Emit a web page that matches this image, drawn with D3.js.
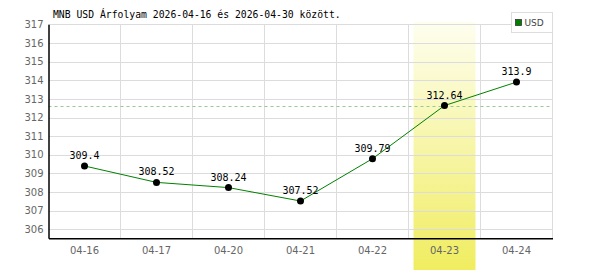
<!DOCTYPE html>
<html>
<head>
<meta charset="utf-8">
<script src="https://cdn.jsdelivr.net/npm/d3@7"></script>
<style>
  body { margin: 0; background: #fff; }
  svg { display: block; }
</style>
</head>
<body>
<svg id="chart" width="600" height="270"></svg>
<script>
// data
const dates = ["04-16", "04-17", "04-20", "04-21", "04-22", "04-23", "04-24"];
const rates = [309.4, 308.52, 308.24, 307.52, 309.79, 312.64, 313.9];
const yTicks = [306, 307, 308, 309, 310, 311, 312, 313, 314, 315, 316, 317];
const highlightDate = "04-23";
const refLevel = 312.64;
const title = "MNB USD Árfolyam 2026-04-16 és 2026-04-30 között.";

const svg = d3.select("#chart");
const margin = {top: 24.3, right: 47.5, bottom: 31.7, left: 48.5};
const width = 600 - margin.left - margin.right;
const height = 270 - margin.top - margin.bottom;

const x = d3.scaleBand().domain(dates).range([margin.left, margin.left + width]);
const y = d3.scaleLinear().domain([305.52, 317]).range([margin.top + height, margin.top]);

// yellow gradient for the highlighted day
const defs = svg.append("defs");
const grad = defs.append("linearGradient")
  .attr("id", "hl").attr("x1", 0).attr("y1", 0).attr("x2", 0).attr("y2", 1);
grad.append("stop").attr("offset", "0%").attr("stop-color", "#fefef0");
grad.append("stop").attr("offset", "100%").attr("stop-color", "#f0ed60");

svg.append("rect")
  .attr("x", x(highlightDate) + 5)
  .attr("y", margin.top - 2.5)
  .attr("width", x.bandwidth() - 10)
  .attr("height", 270 - margin.top + 2.5)
  .attr("fill", "url(#hl)");

// horizontal grid
svg.append("g")
  .selectAll("line")
  .data(yTicks)
  .enter()
  .append("line")
  .attr("x1", margin.left)
  .attr("x2", margin.left + width)
  .attr("y1", d => Math.round(y(d)) + 0.5)
  .attr("y2", d => Math.round(y(d)) + 0.5)
  .attr("stroke", "#dcdcdc");

// vertical grid at band edges
svg.append("g")
  .selectAll("line")
  .data(dates)
  .enter()
  .append("line")
  .attr("x1", d => Math.round(x(d) + x.bandwidth()) - 0.5)
  .attr("x2", d => Math.round(x(d) + x.bandwidth()) - 0.5)
  .attr("y1", margin.top)
  .attr("y2", margin.top + height)
  .attr("stroke", "#dcdcdc");

// reference dashed line
svg.append("line")
  .attr("x1", margin.left)
  .attr("x2", margin.left + width)
  .attr("y1", Math.round(y(refLevel)) + 0.5)
  .attr("y2", Math.round(y(refLevel)) + 0.5)
  .attr("stroke", "#98c898")
  .attr("stroke-dasharray", "3,3");

// axes
const yAxis = svg.append("g")
  .attr("transform", "translate(" + margin.left + ",0)")
  .call(d3.axisLeft(y).tickValues(yTicks).tickSize(0).tickPadding(5).tickFormat(d3.format("d")));
const xAxis = svg.append("g")
  .attr("transform", "translate(0," + (margin.top + height) + ")")
  .call(d3.axisBottom(x).tickSize(0).tickPadding(9));

[yAxis, xAxis].forEach(a => {
  a.select(".domain").attr("stroke", "#000").attr("stroke-width", 1.5);
  a.selectAll("text")
    .attr("fill", "#666")
    .style("font-family", "DejaVu Sans, sans-serif")
    .style("font-size", "10px");
});

// line and points
const line = d3.line()
  .x((d, i) => x(dates[i]) + x.bandwidth() / 2)
  .y(d => y(d));

svg.append("path")
  .datum(rates)
  .attr("d", line)
  .attr("fill", "none")
  .attr("stroke", "#008000")
  .attr("stroke-width", 1);

svg.append("g")
  .selectAll("circle")
  .data(rates)
  .enter()
  .append("circle")
  .attr("cx", (d, i) => x(dates[i]) + x.bandwidth() / 2)
  .attr("cy", d => y(d))
  .attr("r", 3.5)
  .attr("fill", "#000");

svg.append("g")
  .selectAll("text")
  .data(rates)
  .enter()
  .append("text")
  .attr("x", (d, i) => x(dates[i]) + x.bandwidth() / 2)
  .attr("y", d => y(d) - 7)
  .attr("text-anchor", "middle")
  .style("font-family", "DejaVu Sans Mono, monospace")
  .style("font-size", "10px")
  .attr("fill", "#000")
  .text(d => d);

// title
svg.append("text")
  .attr("x", 53)
  .attr("y", 18)
  .style("font-family", "DejaVu Sans Mono, monospace")
  .style("font-size", "9.75px")
  .attr("fill", "#000")
  .text(title);

// legend
svg.append("rect")
  .attr("x", 511.5).attr("y", 12.5)
  .attr("width", 41).attr("height", 20)
  .attr("fill", "#fff").attr("stroke", "#ddd");
svg.append("rect")
  .attr("x", 515.5).attr("y", 19.5)
  .attr("width", 6).attr("height", 6)
  .attr("fill", "#008000").attr("stroke", "#333").attr("stroke-width", 0.8);
svg.append("text")
  .attr("x", 524.5).attr("y", 26)
  .style("font-family", "DejaVu Sans, sans-serif")
  .style("font-size", "9px")
  .attr("fill", "#444")
  .text("USD");
</script>
</body>
</html>
